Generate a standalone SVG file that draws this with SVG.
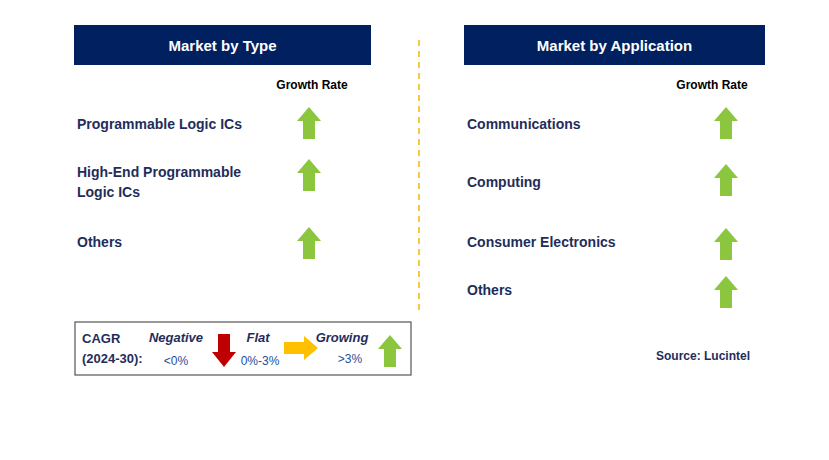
<svg xmlns="http://www.w3.org/2000/svg" width="829" height="460" viewBox="0 0 829 460">
<style>
.hd{fill:#002060}
.ht{font-family:"Liberation Sans",Arial,sans-serif;font-weight:bold;font-size:15px;fill:#fff;text-anchor:middle}
.lb{font-family:"Liberation Sans",Arial,sans-serif;font-weight:bold;font-size:14px;fill:#1f2d5a}
.gr{font-family:"Liberation Sans",Arial,sans-serif;font-weight:bold;font-size:12px;fill:#000;text-anchor:middle}
.up{fill:#8cc63f}
.lg{font-family:"Liberation Sans",Arial,sans-serif;font-size:12px;fill:#1f4e99}
.lgb{font-family:"Liberation Sans",Arial,sans-serif;font-size:13px;font-weight:bold;fill:#1f2d5a}
.lgi{font-family:"Liberation Sans",Arial,sans-serif;font-size:13px;font-weight:bold;font-style:italic;fill:#1f2d5a;text-anchor:middle}
</style>
<defs>
<path id="ua" d="M0,0 L12,14 L6,14 L6,32 L-6,32 L-6,14 L-12,14 Z"/>
</defs>
<rect width="829" height="460" fill="#fff"/>
<g id="left-header"><rect class="hd" x="74" y="25" width="297" height="40"/><text class="ht" x="222.5" y="51">Market by Type</text></g>
<g id="right-header"><rect class="hd" x="464" y="25" width="301" height="40"/><text class="ht" x="614.5" y="51">Market by Application</text></g>
<g id="divider"><line x1="419" y1="40" x2="419" y2="312" stroke="#f5b800" stroke-width="1.5" stroke-dasharray="6,5"/></g>
<text class="gr" x="312" y="89">Growth Rate</text>
<text class="gr" x="712" y="89">Growth Rate</text>
<g id="type-1"><text class="lb" x="77" y="129">Programmable Logic ICs</text><use href="#ua" class="up" x="309" y="107"/></g>
<g id="type-2"><text class="lb" x="77" y="177">High-End Programmable</text><text class="lb" x="77" y="197">Logic ICs</text><use href="#ua" class="up" x="309" y="159"/></g>
<g id="type-3"><text class="lb" x="77" y="247">Others</text><use href="#ua" class="up" x="309" y="227"/></g>
<g id="app-1"><text class="lb" x="467" y="129">Communications</text><use href="#ua" class="up" x="726" y="107"/></g>
<g id="app-2"><text class="lb" x="467" y="187">Computing</text><use href="#ua" class="up" x="726" y="164"/></g>
<g id="app-3"><text class="lb" x="467" y="247">Consumer Electronics</text><use href="#ua" class="up" x="726" y="228"/></g>
<g id="app-4"><text class="lb" x="467" y="295">Others</text><use href="#ua" class="up" x="726" y="276"/></g>
<g id="legend">
<rect x="75" y="322" width="336" height="53" fill="#fff" stroke="#555" stroke-width="1.2"/>
<text class="lgb" x="82" y="343">CAGR</text>
<text class="lgb" x="82" y="363">(2024-30):</text>
<text class="lgi" x="176" y="342">Negative</text>
<text class="lg" x="176" y="365" text-anchor="middle">&lt;0%</text>
<path d="M218,334 L230,334 L230,352 L236,352 L224,367 L212,352 L218,352 Z" fill="#c00000"/>
<text class="lgi" x="258" y="342">Flat</text>
<text class="lg" x="260" y="365" text-anchor="middle">0%-3%</text>
<path d="M284,342 L304,342 L304,336 L318,348 L304,360 L304,354 L284,354 Z" fill="#ffc000"/>
<text class="lgi" x="342" y="342">Growing</text>
<text class="lg" x="350" y="363" text-anchor="middle">&gt;3%</text>
<use href="#ua" class="up" x="390" y="335"/>
</g>
<text class="lb" x="750" y="360" text-anchor="end" style="font-size:12px">Source: Lucintel</text>
</svg>
